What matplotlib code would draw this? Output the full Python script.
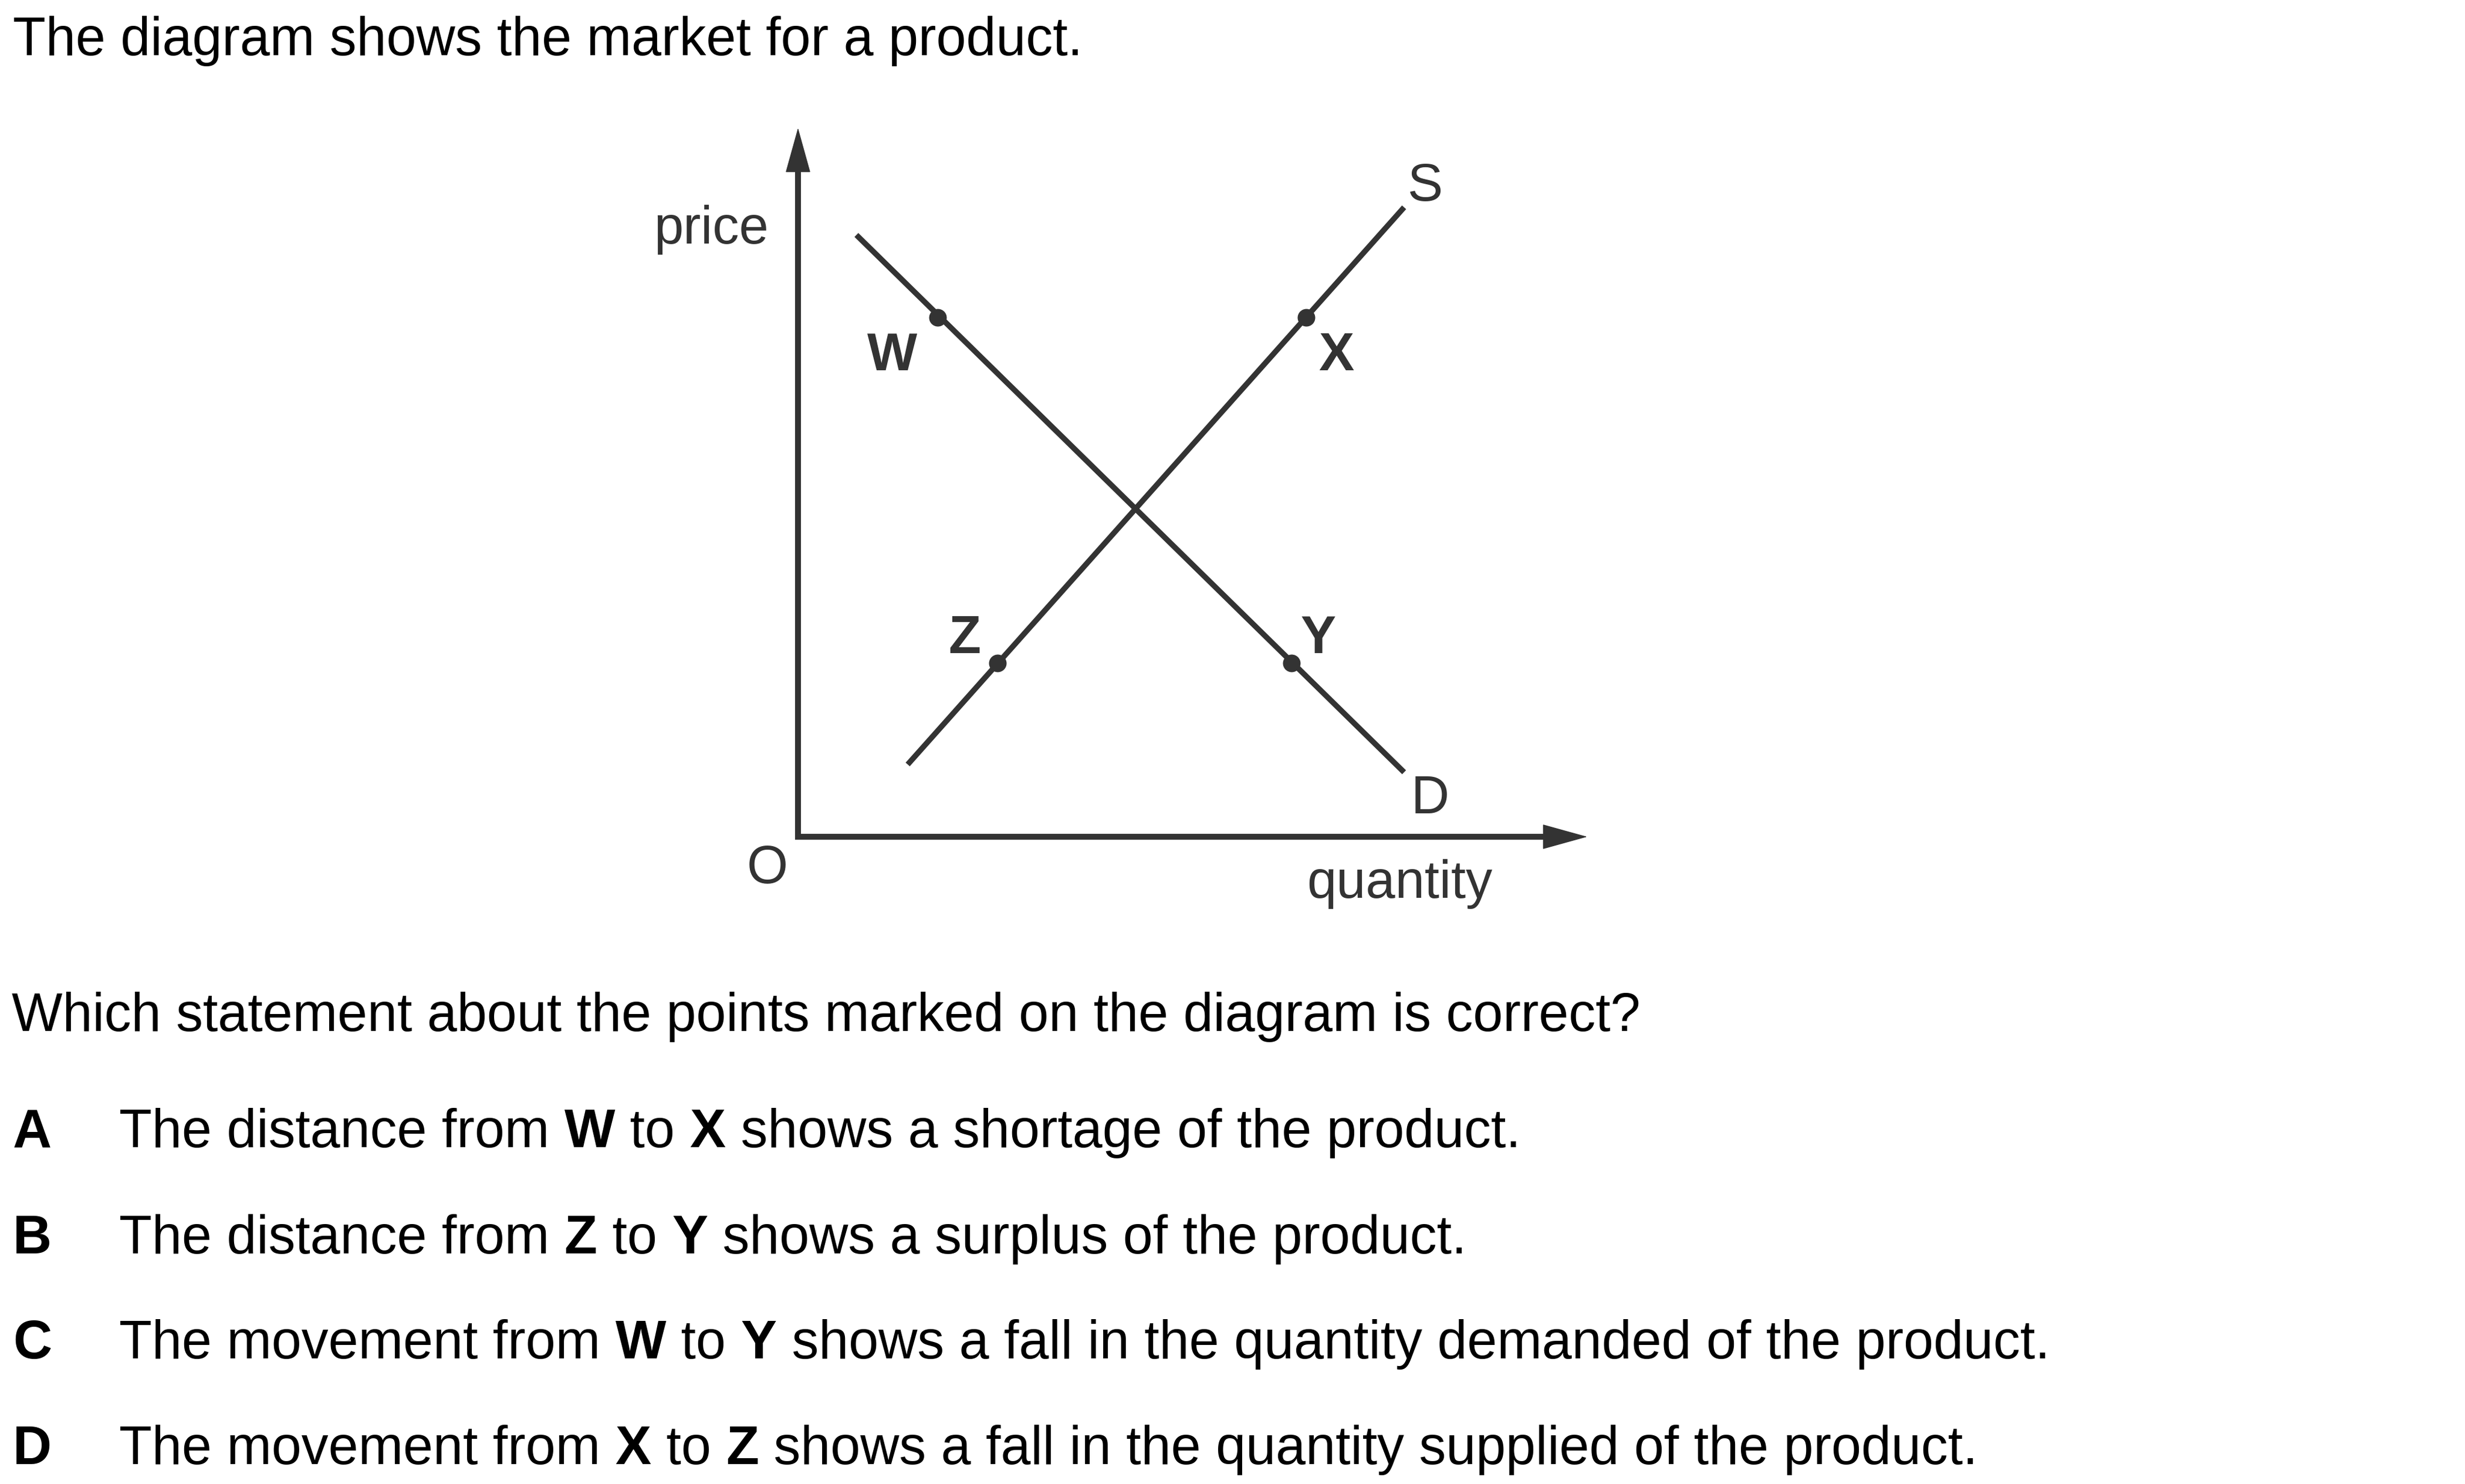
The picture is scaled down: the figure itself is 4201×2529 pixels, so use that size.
import matplotlib
matplotlib.use("Agg")
import matplotlib.pyplot as plt
from matplotlib.font_manager import FontProperties

# ----------------------------------------------------------------------
# data (diagram units: quantity 0..10 along x, price 0..10 along y)
# ----------------------------------------------------------------------
demand_q = [0.74, 7.68]
demand_p = [8.49, 0.91]
supply_q = [1.39, 7.68]
supply_p = [1.02, 8.88]

point_names = ["W", "X", "Z", "Y"]
point_q = [1.77, 6.44, 2.53, 6.25]
point_p = [7.33, 7.33, 2.45, 2.45]

intro = "The diagram shows the market for a product."
question = "Which statement about the points marked on the diagram is correct?"
option_letters = ["A", "B", "C", "D"]
option_parts = [
    [("The distance from ", False), ("W", True), (" to ", False), ("X", True),
     (" shows a shortage of the product.", False)],
    [("The distance from ", False), ("Z", True), (" to ", False), ("Y", True),
     (" shows a surplus of the product.", False)],
    [("The movement from ", False), ("W", True), (" to ", False), ("Y", True),
     (" shows a fall in the quantity demanded of the product.", False)],
    [("The movement from ", False), ("X", True), (" to ", False), ("Z", True),
     (" shows a fall in the quantity supplied of the product.", False)],
]

# ----------------------------------------------------------------------
# layout
# ----------------------------------------------------------------------
W_PX, H_PX, DPI = 4201, 2529, 100
TEXT_PT = 66
DIAG_PT = 65
INK = "#333333"
FAMILY = ["Liberation Sans", "DejaVu Sans"]

plt.rcParams["font.family"] = FAMILY

fig = plt.figure(figsize=(W_PX / DPI, H_PX / DPI), dpi=DPI)
fig.patch.set_facecolor("white")

# diagram axes placed so that origin sits at (1360, 1426) px
x0, y0 = 1360, 1426
x10, y10 = 2705, 218
ax = fig.add_axes([x0 / W_PX, 1 - y0 / H_PX, (x10 - x0) / W_PX, (y0 - y10) / H_PX])
ax.set_xlim(0, 10)
ax.set_ylim(0, 10)
ax.axis("off")

ppu_x = (x10 - x0) / 10.0
ppu_y = (y0 - y10) / 10.0

# axes with arrow heads
head_len_px = 72
ax.plot([0, 0, 10 - 0.5 * head_len_px / ppu_x], [10 - 0.5 * head_len_px / ppu_y, 0, 0],
        color=INK, lw=7.2, solid_joinstyle="miter", solid_capstyle="butt", clip_on=False)
for tip in [(0, 10), (10, 0)]:
    ax.annotate("", xy=tip, xytext=(0, 0), annotation_clip=False,
                arrowprops=dict(arrowstyle="-|>,head_length=0.72,head_width=0.2",
                                mutation_scale=72, lw=1, color=INK,
                                shrinkA=0, shrinkB=0))

# demand and supply
ax.plot(demand_q, demand_p, color=INK, lw=6.8, solid_capstyle="butt", clip_on=False)
ax.plot(supply_q, supply_p, color=INK, lw=6.8, solid_capstyle="butt", clip_on=False)
ax.plot(point_q, point_p, "o", ms=21.6, mew=0, color=INK, clip_on=False)

# diagram labels (baseline positions in diagram units)
label_pos = {"W": (1.19, 6.58), "X": (6.82, 6.58), "Z": (2.11, 2.59), "Y": (6.59, 2.59)}
for name in point_names:
    lx, ly = label_pos[name]
    ax.text(lx, ly, name, ha="center", va="baseline", fontsize=DIAG_PT,
            fontweight="bold", color=INK)
ax.text(7.95, 8.97, "S", ha="center", va="baseline", fontsize=DIAG_PT, color=INK)
ax.text(8.01, 0.33, "D", ha="center", va="baseline", fontsize=DIAG_PT, color=INK)
ax.text(-0.39, -0.65, "O", ha="center", va="baseline", fontsize=DIAG_PT, color=INK)
ax.text(-0.37, 8.37, "price", ha="right", va="baseline", fontsize=DIAG_PT, color=INK)
ax.text(7.62, -0.86, "quantity", ha="center", va="baseline", fontsize=DIAG_PT, color=INK)

# ----------------------------------------------------------------------
# question text
# ----------------------------------------------------------------------
renderer = fig.canvas.get_renderer()


def seg_width(s, bold):
    prop = FontProperties(family=FAMILY, size=TEXT_PT, weight="bold" if bold else "normal")
    w1, _, _ = renderer.get_text_width_height_descent("|" + s + "|", prop, ismath=False)
    w0, _, _ = renderer.get_text_width_height_descent("||", prop, ismath=False)
    return w1 - w0


def put(x_px, base_px, s, bold=False):
    fig.text(x_px / W_PX, 1 - base_px / H_PX, s, ha="left", va="baseline",
             fontsize=TEXT_PT, fontweight="bold" if bold else "normal", color="black")


put(22, 94, intro)
put(20, 1757, question)

option_base = [1955, 2136, 2315, 2495]
for letter, parts, base in zip(option_letters, option_parts, option_base):
    put(22, base, letter, bold=True)
    x = 203
    for s, bold in parts:
        put(x, base, s, bold)
        x += seg_width(s, bold)

fig.savefig("out.png", dpi=DPI, facecolor="white")
